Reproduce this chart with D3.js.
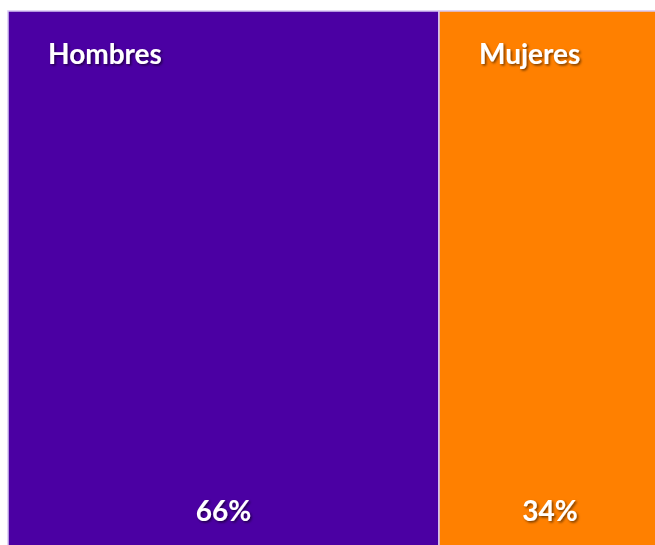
<!DOCTYPE html>
<html>
<head>
<meta charset="utf-8">
<script src="https://cdn.jsdelivr.net/npm/d3@7"></script>
<style>
  html, body { margin: 0; padding: 0; background: #fff; overflow: hidden; }
  text { font-family: Lato, Calibri, "Open Sans", sans-serif; font-weight: bold; fill: #fff; }
</style>
</head>
<body>
<div id="chart"></div>
<script>
const categories = ['Hombres', 'Mujeres'];
const shares = [66, 34];
const colors = ['#4b00a3', '#ff8000'];

const width = 655, height = 545;
const marginLeft = 8, marginTop = 11, fullWidth = 653;

const svg = d3.select('#chart').append('svg')
    .attr('width', width)
    .attr('height', height);

const defs = svg.append('defs');
defs.append('filter')
    .attr('id', 'shadow')
    .attr('x', '-20%').attr('y', '-20%')
    .attr('width', '140%').attr('height', '140%')
    .append('feDropShadow')
    .attr('dx', 1.5).attr('dy', 1.5)
    .attr('stdDeviation', 1)
    .attr('flood-color', '#000')
    .attr('flood-opacity', 0.55);

const x = d3.scaleLinear().domain([0, d3.sum(shares)]).range([marginLeft, marginLeft + fullWidth]);

let acc = 0;
const cells = shares.map((v, i) => {
    let c = { name: categories[i], value: v, color: colors[i], x0: x(acc), x1: x(acc + v) };
    acc += v;
    return c;
});

const g = svg.selectAll('g.cell')
    .data(cells)
    .enter().append('g')
    .attr('class', 'cell');

g.append('rect')
    .attr('x', d => d.x0)
    .attr('y', marginTop)
    .attr('width', d => d.x1 - d.x0)
    .attr('height', height + 20 - marginTop)
    .attr('fill', d => d.color)
    .attr('stroke', '#d8c8f4')
    .attr('stroke-width', 1.5);

g.append('text')
    .attr('x', d => d.x0 + 40)
    .attr('y', 64)
    .attr('font-size', 28)
    .attr('filter', 'url(#shadow)')
    .text(d => d.name);

g.append('text')
    .attr('x', d => (d.x0 + d.x1) / 2)
    .attr('y', 521)
    .attr('text-anchor', 'middle')
    .attr('font-size', 28)
    .attr('filter', 'url(#shadow)')
    .text(d => d.value + '%');
</script>
</body>
</html>
